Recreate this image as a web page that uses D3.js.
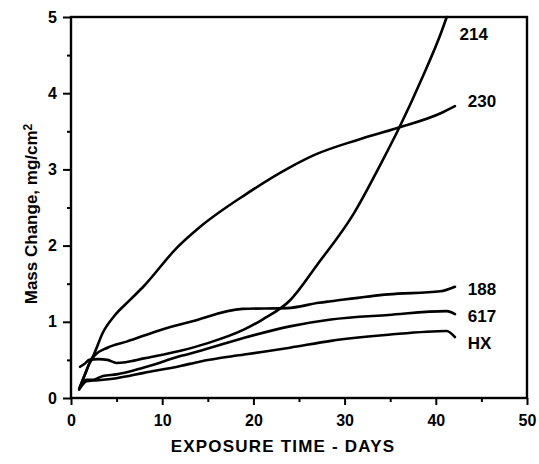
<!DOCTYPE html>
<html><head><meta charset="utf-8">
<script src="https://cdn.jsdelivr.net/npm/d3@7"></script>
<style>
html,body{margin:0;padding:0;background:#fff;}
text{font-family:"Liberation Sans",Arial,sans-serif;font-weight:bold;fill:#000;}
</style></head>
<body>
<svg id="chart" width="539" height="464"></svg>
<script>
// ---- data ----
const xTicks = [0, 10, 20, 30, 40, 50];
const xMinorTicks = [5, 15, 25, 35, 45];
const yTicks = [0, 1, 2, 3, 4, 5];
const yMinorTicks = [0.5, 1.5, 2.5, 3.5, 4.5];
const seriesNames = ["214", "230", "188", "617", "HX"];
const days214 = [1, 1.5, 2, 3, 4, 5, 6, 8, 12, 15, 19, 21, 24, 27, 31, 34, 36, 38.5, 40.6, 41.2];
const mass214 = [0.41, 0.45, 0.5, 0.51, 0.5, 0.46, 0.47, 0.52, 0.62, 0.72, 0.9, 1.03, 1.28, 1.75, 2.42, 3.08, 3.55, 4.2, 4.8, 5.0];
const days230 = [1, 1.5, 2, 2.5, 3.5, 4.7, 6.5, 8, 11.6, 14.2, 19, 23.9, 26.7, 31.5, 35.7, 40.6, 42.1];
const mass230 = [0.15, 0.3, 0.45, 0.57, 0.86, 1.07, 1.29, 1.47, 1.97, 2.25, 2.66, 3.02, 3.19, 3.39, 3.54, 3.74, 3.83];
const days188 = [1, 1.5, 2, 2.6, 4, 6.1, 10, 13.1, 18.8, 23.7, 27.2, 28.5, 34.8, 40.5, 42.1];
const mass188 = [0.15, 0.3, 0.45, 0.56, 0.66, 0.74, 0.9, 1.0, 1.17, 1.18, 1.25, 1.27, 1.36, 1.4, 1.46];
const days617 = [0.9, 1.7, 2.5, 3.5, 5, 8, 12, 14.2, 19, 24, 28.5, 34.8, 41.2, 42.1];
const mass617 = [0.13, 0.24, 0.24, 0.29, 0.31, 0.4, 0.55, 0.62, 0.79, 0.94, 1.03, 1.09, 1.14, 1.1];
const daysHX = [0.9, 1.7, 2.5, 3.5, 5, 8, 12, 14.2, 19, 24, 28.5, 34.8, 41.2, 42.1];
const massHX = [0.11, 0.22, 0.23, 0.24, 0.26, 0.33, 0.42, 0.48, 0.57, 0.66, 0.75, 0.83, 0.88, 0.8];
const labelX = [42.6, 43.5, 43.5, 43.5, 43.5];
const labelY = [4.78, 3.9, 1.43, 1.07, 0.72];

const series = [
  {name: seriesNames[0], x: days214, y: mass214},
  {name: seriesNames[1], x: days230, y: mass230},
  {name: seriesNames[2], x: days188, y: mass188},
  {name: seriesNames[3], x: days617, y: mass617},
  {name: seriesNames[4], x: daysHX, y: massHX}
];

const svg = d3.select("#chart");
const L = 71, R = 527, T = 17, B = 398;
const x = d3.scaleLinear().domain([0, 50]).range([L, R]);
const y = d3.scaleLinear().domain([0, 5]).range([B, T]);

// frame
svg.append("rect").attr("x", L).attr("y", T).attr("width", R - L).attr("height", B - T)
  .attr("fill", "none").attr("stroke", "#000").attr("stroke-width", 2.4);

// x axis
const gx = svg.append("g").attr("transform", `translate(0,${B})`);
gx.call(d3.axisBottom(x).tickValues(xTicks).tickSize(7).tickFormat(d3.format("d")));
gx.append("g").call(d3.axisBottom(x).tickValues(xMinorTicks).tickSize(4).tickFormat(""));
gx.selectAll(".domain").remove();
gx.selectAll("line").attr("stroke", "#000").attr("stroke-width", 2);
gx.selectAll("text").attr("font-size", 16).attr("dy", "0.35em").attr("y", 22);

// y axis
const gy = svg.append("g").attr("transform", `translate(${L},0)`);
gy.call(d3.axisLeft(y).tickValues(yTicks).tickSize(8).tickFormat(d3.format("d")));
gy.append("g").call(d3.axisLeft(y).tickValues(yMinorTicks).tickSize(4).tickFormat(""));
gy.selectAll(".domain").remove();
gy.selectAll("line").attr("stroke", "#000").attr("stroke-width", 2);
gy.selectAll("text").attr("font-size", 16).attr("x", -14);

// lines
const line = d3.line().x(d => x(d[0])).y(d => y(d[1])).curve(d3.curveMonotoneX);
series.forEach(s => {
  const pts = s.x.map((v, i) => [v, s.y[i]]);
  svg.append("path").datum(pts).attr("d", line)
    .attr("fill", "none").attr("stroke", "#000").attr("stroke-width", 2.6)
    .attr("stroke-linejoin", "round").attr("stroke-linecap", "round");
});

// series labels
series.forEach((s, i) => {
  svg.append("text").attr("x", x(labelX[i])).attr("y", y(labelY[i]))
    .attr("dy", "0.35em").attr("font-size", 17).text(s.name);
});

// axis titles
svg.append("text").attr("x", 283).attr("y", 446).attr("dy", "0.35em").attr("text-anchor", "middle")
  .attr("font-size", 17).attr("letter-spacing", 1.2).text("EXPOSURE TIME - DAYS");

const yt = svg.append("text").attr("transform", `translate(37,214) rotate(-90)`)
  .attr("text-anchor", "middle").attr("font-size", 17);
yt.append("tspan").text("Mass Change, mg/cm");
yt.append("tspan").attr("dy", "-0.45em").attr("font-size", 12).text("2");
</script>
</body></html>
